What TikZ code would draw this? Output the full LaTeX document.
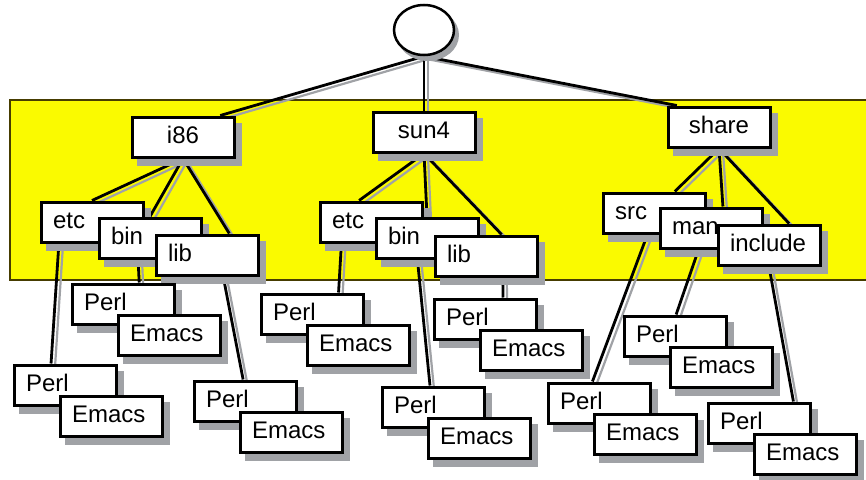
\documentclass[tikz,border=0pt]{standalone}
\usepackage{fontspec}
\setmainfont{Liberation Sans}
\usepackage{tikz}
\usetikzlibrary{shapes.geometric}
\definecolor{dropgray}{RGB}{160,162,166}
\definecolor{folder}{RGB}{250,250,0}
\definecolor{rim}{RGB}{70,60,0}
\pgfdeclarelayer{back}
\pgfdeclarelayer{wires}
\pgfdeclarelayer{drop}
\pgfsetlayers{back,wires,drop,main}
\tikzstyle{dir} = [rectangle, draw, line width=3pt, fill=white, minimum height=40pt, text width=78pt, text height=18pt, text depth=6pt, inner xsep=12pt, inner ysep=0pt, align=left, font=\fontsize{24}{28}\selectfont]
\tikzstyle{arch} = [dir, align=center]
\tikzstyle{wire} = [line width=2.8pt]
\tikzstyle{wireshadow} = [draw=dropgray, line width=2.2pt]
% a Perl box with its Emacs box laid over it
\newcommand{\tools}[2]{
  \node[dir] (#1-perl) at (#2) {Perl};
  \node[dir] (#1-emacs) at ([shift={(46,31)}]#1-perl) {Emacs};
}

\begin{document}
\begin{tikzpicture}[x=1pt,y=-1pt]
  \useasboundingbox (0,0) rectangle (866,479);
  \begin{pgfonlayer}{back}
    \filldraw[fill=folder, draw=rim, line width=1.5pt] (10,100) rectangle (880,280);
  \end{pgfonlayer}

  \node[ellipse, draw, line width=2.5pt, fill=white, minimum width=60pt, minimum height=50pt] (root) at (424,30) {};

  \node[arch] (i86) at (183,137) {i86};
  \node[arch] (sun4) at (424,132) {sun4};
  \node[arch] (share) at (719,127) {share};

  \node[dir] (i86-etc) at (92,222) {etc};
  \node[dir] (i86-bin) at (150,238) {bin};
  \node[dir] (i86-lib) at (207,255) {lib};
  \node[dir] (sun-etc) at (371,222) {etc};
  \node[dir] (sun-bin) at (427,238) {bin};
  \node[dir] (sun-lib) at (486,256) {lib};
  \node[dir] (src) at (654,213) {src};
  \node[dir] (man) at (711,228) {man};
  \node[dir] (incl) at (769,245) {include};

  \tools{i86-etc}{65,385}
  \tools{i86-bin}{123,304}
  \tools{i86-lib}{245,401}
  \tools{sun-etc}{312,314}
  \tools{sun-bin}{433,407}
  \tools{sun-lib}{485,319}
  \tools{src}{599,403}
  \tools{man}{675,336}
  \tools{incl}{759,423}

  % gray drop shadows under the boxes
  \begin{pgfonlayer}{drop}
    \fill[dropgray] ([shift={(4,5)}]root.center) ellipse (31pt and 26pt);
    \foreach \n in {i86,sun4,share,i86-etc,i86-bin,i86-lib,sun-etc,sun-bin,sun-lib,src,man,incl}
      \fill[dropgray] ([shift={(6,7)}]\n.south west) rectangle ([shift={(6,7)}]\n.north east);
    \foreach \n in {i86-etc,i86-bin,i86-lib,sun-etc,sun-bin,sun-lib,src,man,incl}
      \foreach \t in {perl,emacs}
        \fill[dropgray] ([shift={(6,7)}]\n-\t.south west) rectangle ([shift={(6,7)}]\n-\t.north east);
  \end{pgfonlayer}

  % tree lines, each with a gray line beside it
  \begin{pgfonlayer}{wires}
    \foreach \a/\b in {root.south/i86.30, root.south/sun4.north, root.south/share.153,
        i86.south/i86-etc.north, i86.south/i86-bin.north, i86.south/i86-lib.44,
        sun4.south/sun-etc.119, sun4.south/sun-bin.north, sun4.south/sun-lib.54,
        share.south/src.46, share.south/man.61, share.south/incl.47,
        i86-etc.213/i86-etc-perl.123, i86-bin.241/i86-bin-perl.53, i86-lib.307/i86-lib-perl.95,
        sun-etc.216/sun-etc-perl.39, sun-bin.246/sun-bin-perl.98, sun-lib.308/sun-lib-perl.50,
        src.253/src-perl.107, man.240/man-perl.87, incl.south/incl-perl.32} {
      \draw[wireshadow] ([shift={(4,3)}]\a) -- ([shift={(4,3)}]\b);
      \draw[wire] (\a) -- (\b);
    }
  \end{pgfonlayer}
\end{tikzpicture}
\end{document}
